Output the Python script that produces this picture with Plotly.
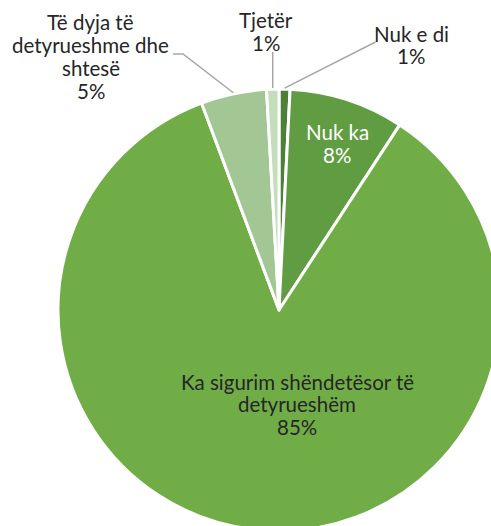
import math
import plotly.graph_objects as go

labels = ["Nuk e di", "Nuk ka", "Ka sigurim shëndetësor të detyrueshëm",
          "Të dyja të detyrueshme dhe shtesë", "Tjetër"]
label_lines = [["Nuk e di"], ["Nuk ka"], ["Ka sigurim shëndetësor të", "detyrueshëm"],
               ["Të dyja të", "detyrueshme dhe", "shtesë"], ["Tjetër"]]
values = [0.8, 8.4, 85.1, 4.8, 0.9]
colors = ["#4C7F37", "#609D42", "#70AD47", "#A3C794", "#C5DDBA"]

W, H = 500, 540
CX, CY, R = 279, 310, 221  # pixel geometry of the pie


def px(x):
    return x / W


def py(y):
    return 1 - y / H


fig = go.Figure(go.Pie(
    labels=labels, values=values, sort=False, direction="clockwise", rotation=0,
    marker=dict(colors=colors, line=dict(color="white", width=3)),
    textinfo="none", hoverinfo="label+percent", showlegend=False,
    domain=dict(x=[px(CX - R), px(CX + R)], y=[py(CY + R), py(CY - R)]),
))

total = sum(values)
pcts = [f"{round(v / total * 100)}%" for v in values]
mids = []
acc = 0
for v in values:
    mids.append((acc + v / 2) / total * 2 * math.pi)
    acc += v


def edge(i, rr=R + 1):
    a = mids[i]
    return CX + rr * math.sin(a), CY - rr * math.cos(a)


FONT = "Lato"
SIZE = 20.5
TXT = "#262626"
LINE = "#A6A6A6"

annotations = []
shapes = []


def add_label(i, x, first_baseline, spacing, color=TXT):
    lines = label_lines[i] + [pcts[i]]
    for k, line in enumerate(lines):
        b = first_baseline + k * spacing
        annotations.append(dict(
            x=px(x), y=py(b - 0.39 * SIZE), xref="paper", yref="paper", showarrow=False,
            text=line, align="center", xanchor="center", yanchor="middle",
            font=dict(family=FONT, size=SIZE, color=color)))


def add_path(points):
    d = "M " + " L ".join(f"{px(x)},{py(y)}" for x, y in points)
    shapes.append(dict(type="path", path=d, xref="paper", yref="paper",
                       line=dict(color=LINE, width=1.5)))


# inside labels
add_label(1, 337, 140, 23, color="white")
add_label(2, 297, 389.5, 22.5)
# outside labels
add_label(0, 411, 41.5, 22.5)
add_label(3, 90.5, 29.5, 23)
add_label(4, 266, 28, 22.5)

ex, ey = edge(0)
add_path([(375.5, 42), (ex, ey)])
ex, ey = edge(3)
add_path([(173, 54), (183, 54), (ex, ey)])
ex, ey = edge(4)
add_path([(ex, 52), (ex, ey)])

fig.update_layout(
    width=W, height=H, margin=dict(l=0, r=0, t=0, b=0),
    paper_bgcolor="white", plot_bgcolor="white",
    annotations=annotations, shapes=shapes,
)

fig.write_html("out.html", config={"displayModeBar": False}, post_script=(
    "document.body.style.margin='0';"
    "document.body.style.overflow='hidden';"
    "document.documentElement.style.overflow='hidden';"))
